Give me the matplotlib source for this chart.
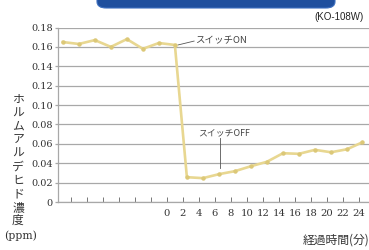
from __future__ import annotations

import matplotlib

matplotlib.use("Agg")
import matplotlib.pyplot as plt
from matplotlib.patches import FancyBboxPatch

# readings (minutes, ppm)
before_minutes = [-13, -11, -9, -7, -5, -3, -1, 1]
before_ppm = [0.165, 0.163, 0.167, 0.160, 0.168, 0.158, 0.164, 0.162]

after_minutes = [2.5, 4.5, 6.5, 8.5, 10.5, 12.5, 14.5, 16.5, 18.5, 20.5, 22.5, 24.4]
after_ppm = [0.0256, 0.0246, 0.0287, 0.0318, 0.0369, 0.0415,
             0.0503, 0.0497, 0.0538, 0.0513, 0.0544, 0.0615]

tick_minutes = list(range(-12, 25, 2))
tick_labels = [str(t) if t >= 0 else "" for t in tick_minutes]
ppm_ticks = [0, 0.02, 0.04, 0.06, 0.08, 0.10, 0.12, 0.14, 0.16, 0.18]
ppm_labels = ["0", "0.02", "0.04", "0.06", "0.08", "0.10", "0.12", "0.14", "0.16", "0.18"]

ylabel_chars = "ホルムアルデヒド濃度"

LINE_COLOR = "#e8d791"
GRID_COLOR = "#a8a8a8"
TEXT_COLOR = "#333333"
JP_FONT = ["Noto Sans CJK JP", "DejaVu Sans"]


def main() -> int:
    fig = plt.figure(figsize=(3.69, 2.5), dpi=100)
    fig.patch.set_facecolor("white")

    # dark blue banner clipped at the top edge
    fig.patches.append(
        FancyBboxPatch(
            (97 / 369, 1 - 8 / 250), 238 / 369, 0.08,
            boxstyle="round,pad=0,rounding_size=0.025",
            transform=fig.transFigure, facecolor="#1f4f9e",
            edgecolor="#3d6fbf", linewidth=0.8, zorder=0,
        )
    )

    ax = fig.add_axes([58 / 369, 1 - 202 / 250, 311 / 369, 174.5 / 250])
    minutes = before_minutes + after_minutes
    ppm = before_ppm + after_ppm
    ax.plot(minutes, ppm, color=LINE_COLOR, lw=1.9, marker="o", ms=2.2,
            mfc="#dcc878", mec="#dcc878", zorder=3, clip_on=False)

    ax.set_xlim(-13.6, 25.25)
    ax.set_ylim(0, 0.18)

    ax.set_yticks(ppm_ticks)
    ax.set_yticklabels(ppm_labels)
    ax.yaxis.grid(True, color=GRID_COLOR, lw=0.9)
    ax.set_axisbelow(True)
    ax.set_xticks(tick_minutes)
    ax.set_xticklabels(tick_labels)

    for side in ("top", "right"):
        ax.spines[side].set_visible(False)
    for side in ("left", "bottom"):
        ax.spines[side].set_color(GRID_COLOR)
        ax.spines[side].set_linewidth(0.9)

    ax.tick_params(axis="x", direction="in", length=3.5, width=0.7,
                   color="#777777", pad=5, labelsize=7.2, labelcolor=TEXT_COLOR)
    ax.tick_params(axis="y", direction="out", length=2.2, width=0.9,
                   color=GRID_COLOR, pad=1.5, labelsize=7, labelcolor=TEXT_COLOR)
    for lab in ax.get_xticklabels() + ax.get_yticklabels():
        lab.set_family("DejaVu Serif")

    # switch annotations
    ax.plot([1.4, 3.4], [0.162, 0.166], color="#555555", lw=0.6)
    ax.text(3.5, 0.1663, "スイッチON", family=JP_FONT, fontsize=6.8,
            color="#444444", va="center", ha="left")
    ax.plot([6.6, 6.6], [0.0656, 0.0349], color="#555555", lw=0.6)
    ax.text(3.9, 0.0712, "スイッチOFF", family=JP_FONT, fontsize=6.4,
            color="#444444", va="center", ha="left")

    fig.text(364 / 369, 1 - 17 / 250, "(KO-108W)", family="Liberation Sans",
             fontsize=7, color="#222222", ha="right", va="center")

    fig.text(18 / 369, 1 - 160 / 250, "\n".join(ylabel_chars), family=JP_FONT,
             fontsize=8.5, color=TEXT_COLOR, ha="center", va="center",
             linespacing=1.05)
    fig.text(21 / 369, 1 - 236 / 250, "(ppm)", family="DejaVu Serif",
             fontsize=7.8, color=TEXT_COLOR, ha="center", va="center")
    fig.text(1.0, 1 - 240 / 250, "経過時間(分)", family=JP_FONT,
             fontsize=8.5, color=TEXT_COLOR, ha="right", va="center")

    fig.savefig("out.png", dpi=100)
    return 0


if __name__ == "__main__":
    raise SystemExit(main())
